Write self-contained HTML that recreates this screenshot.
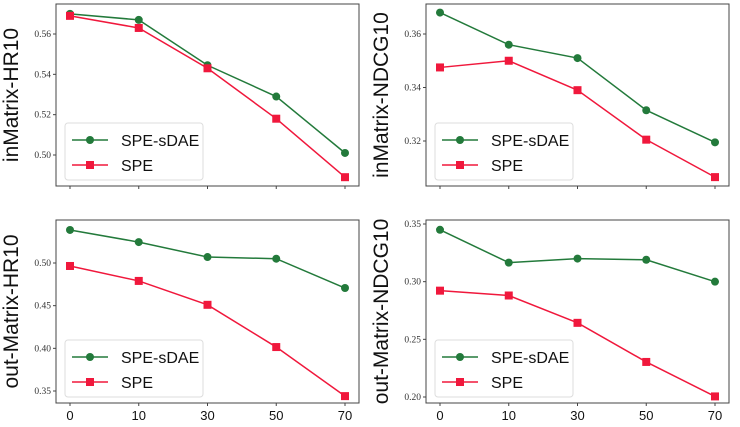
<!DOCTYPE html>
<html><head><meta charset="utf-8"><style>
html,body{margin:0;padding:0;background:#fff;width:740px;height:427px;overflow:hidden}
svg{display:block}
.tick{font-family:"Liberation Serif",serif;font-size:9.5px;fill:#333}
.xt{font-family:"Liberation Sans",sans-serif;font-size:13px;fill:#111}
.yl{font-family:"Liberation Sans",sans-serif;font-size:21px;fill:#111}
.lg{font-family:"Liberation Sans",sans-serif;font-size:16px;fill:#111}
</style></head><body>
<svg id="chart" width="740" height="427" xmlns="http://www.w3.org/2000/svg"></svg>
<script>
const categories = ["0","10","30","50","70"];
const hrInGreen = [0.570,0.567,0.5445,0.529,0.501];
const hrInRed = [0.569,0.563,0.543,0.518,0.489];
const ndcgInGreen = [0.368,0.356,0.351,0.3315,0.3195];
const ndcgInRed = [0.3475,0.350,0.339,0.3205,0.3065];
const hrOutGreen = [0.5387,0.5245,0.507,0.505,0.4707];
const hrOutRed = [0.4965,0.479,0.451,0.4015,0.344];
const ndcgOutGreen = [0.345,0.3165,0.320,0.319,0.300];
const ndcgOutRed = [0.2922,0.288,0.2643,0.2304,0.2005];
const ticksHrIn = [0.50,0.52,0.54,0.56];
const ticksNdcgIn = [0.32,0.34,0.36];
const ticksHrOut = [0.35,0.40,0.45,0.50];
const ticksNdcgOut = [0.20,0.25,0.30,0.35];

const NS="http://www.w3.org/2000/svg";
const svg=document.getElementById('chart');
function mk(tag,attrs,parent){const e=document.createElementNS(NS,tag);for(const k in attrs)e.setAttribute(k,attrs[k]);(parent||svg).appendChild(e);return e;}
const GREEN="#237a3b", RED="#f0183c";

function panel(o){
  const g=mk('g',{});
  
  
  const yScale=v=>o.y1+(v-o.v1)*(o.y2-o.y1)/(o.v2-o.v1);
  const xScale=i=>o.left+14+i*(o.right-o.left-28)/(categories.length-1);
  const box=mk('rect',{x:o.left,y:o.top,width:o.right-o.left,height:o.bottom-o.top,fill:'#fff',stroke:'#444','stroke-width':1},g);
  
  
  o.ticks.forEach(t=>{
    const y=yScale(t);
    mk('line',{x1:o.left-3,x2:o.left,y1:y,y2:y,stroke:'#444'},g);
    const tx=mk('text',{x:o.left-5,y:y+3,'text-anchor':'end',class:'tick'},g);
    tx.textContent=t.toFixed(2);
    
    
  });
  categories.forEach((c,i)=>{
    const x=xScale(i);
    mk('line',{x1:x,x2:x,y1:o.bottom,y2:o.bottom+3,stroke:'#444'},g);
    if(o.xlabels){
      const tx=mk('text',{x:x,y:o.bottom+17,'text-anchor':'middle',class:'xt'},g);
      tx.textContent=c;
      
      
    }
  });
  const yl=mk('text',{x:0,y:0,'text-anchor':'middle',class:'yl',transform:`translate(${o.left-38},${(o.top+o.bottom)/2}) rotate(-90)`},g);
  yl.textContent=o.ylabel;
  
  
  [[o.green,GREEN,'circle','series-spe-sdae'],[o.red,RED,'square','series-spe']].forEach(([vals,col,m,nm])=>{
    const pl=mk('polyline',{points:vals.map((v,i)=>xScale(i)+','+yScale(v)).join(' '),fill:'none',stroke:col,'stroke-width':1.5},g);
    
    
    vals.forEach((v,i)=>{
      let e;
      if(m==='circle') e=mk('circle',{cx:xScale(i),cy:yScale(v),r:4,fill:col},g);
      else e=mk('rect',{x:xScale(i)-4,y:yScale(v)-4,width:8,height:8,fill:col},g);
      
      
    });
  });
  const lx=o.left+9, ly=o.bottom-63;
  const lg=mk('g',{},g);
  
  
  mk('rect',{x:lx,y:ly,width:138,height:57,fill:'#fff',stroke:'#ddd',rx:3},lg);
  [['SPE-sDAE',GREEN,'c'],['SPE',RED,'s']].forEach(([t,col,m],k)=>{
    const yy=ly+17+k*25;
    const it=mk('g',{},lg);
    
    
    mk('line',{x1:lx+7,x2:lx+43,y1:yy,y2:yy,stroke:col,'stroke-width':1.5},it);
    if(m==='c') mk('circle',{cx:lx+25,cy:yy,r:4,fill:col},it);
    else mk('rect',{x:lx+21,y:yy-4,width:8,height:8,fill:col},it);
    const tx=mk('text',{x:lx+56,y:yy+6,class:'lg'},it);
    tx.textContent=t;
  });
}
panel({name:'panel-inmatrix-hr10',left:56,right:359,top:4,bottom:186,v1:0.56,y1:34,v2:0.50,y2:155,ticks:ticksHrIn,green:hrInGreen,red:hrInRed,ylabel:'inMatrix-HR10',xlabels:false});
panel({name:'panel-inmatrix-ndcg10',left:426,right:729,top:4,bottom:186,v1:0.36,y1:34,v2:0.32,y2:141,ticks:ticksNdcgIn,green:ndcgInGreen,red:ndcgInRed,ylabel:'inMatrix-NDCG10',xlabels:false});
panel({name:'panel-outmatrix-hr10',left:56,right:359,top:220,bottom:403,v1:0.50,y1:263,v2:0.35,y2:391,ticks:ticksHrOut,green:hrOutGreen,red:hrOutRed,ylabel:'out-Matrix-HR10',xlabels:true});
panel({name:'panel-outmatrix-ndcg10',left:426,right:729,top:220,bottom:403,v1:0.35,y1:224,v2:0.20,y2:397,ticks:ticksNdcgOut,green:ndcgOutGreen,red:ndcgOutRed,ylabel:'out-Matrix-NDCG10',xlabels:true});
</script>
</body></html>
